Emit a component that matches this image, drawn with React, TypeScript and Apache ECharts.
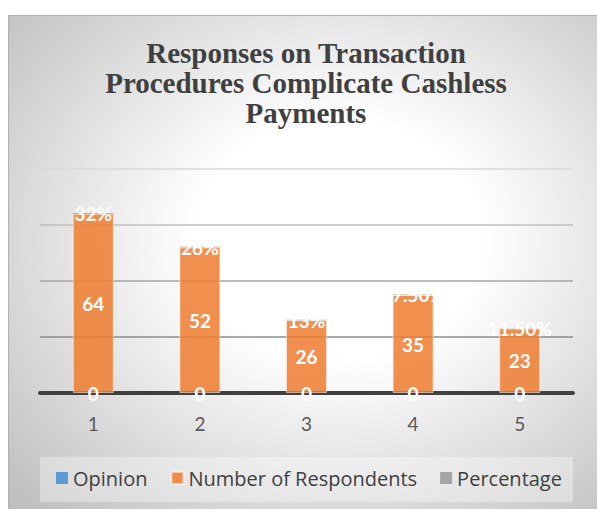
import React, { useEffect, useRef } from "react";
import * as echarts from "echarts";

const categories = ["1", "2", "3", "4", "5"];
const opinionValues = [0, 0, 0, 0, 0];
const respondents = [64, 52, 26, 35, 23];
const percentageValues = [0.32, 0.26, 0.13, 0.175, 0.115];
const percentageLabels = ["32%", "26%", "13%", "17.50%", "11.50%"];
const titleText = "Responses on Transaction\nProcedures Complicate Cashless\nPayments";

export default function App() {
  const ref = useRef<HTMLDivElement>(null);
  useEffect(() => {
    if (!ref.current) return;
    const chart = echarts.init(ref.current, null, { renderer: "svg" });
    const labelFont = "Lato, 'Open Sans', sans-serif";
    const dataLabel = {
      show: true,
      position: "inside" as const,
      color: "#ffffff",
      fontWeight: "bold" as const,
      fontSize: 19,
      fontFamily: labelFont,
    };
    chart.setOption({
      animation: false,
      graphic: [
        {
          type: "rect",
          z: -100,
          silent: true,
          shape: { x: 8.5, y: 15.5, width: 600, height: 500 },
          style: {
            fill: new echarts.graphic.RadialGradient(0.55, 0.45, 0.8, [
              { offset: 0, color: "#ffffff" },
              { offset: 0.3, color: "#ffffff" },
              { offset: 0.9, color: "#c2c2c2" },
              { offset: 1, color: "#bcbcbc" },
            ]),
            stroke: "#b0b0b0",
            lineWidth: 1,
          },
        },
        {
          type: "rect",
          z: -50,
          silent: true,
          shape: { x: 40, y: 457, width: 533, height: 45 },
          style: { fill: "rgba(255,255,255,0.35)" },
        },
        {
          type: "text",
          x: 306,
          y: 38,
          z: 10,
          style: {
            text: titleText,
            align: "center",
            verticalAlign: "top",
            fontFamily: "'Liberation Serif', 'Times New Roman', serif",
            fontWeight: "bold",
            fontSize: 29,
            lineHeight: 30,
            fill: "#404040",
          },
        },
      ],
      legend: {
        left: 56,
        top: 468,
        padding: 0,
        itemGap: 23,
        itemWidth: 12,
        itemHeight: 12,
        icon: "rect",
        textStyle: { fontSize: 20, color: "#404040", fontFamily: "'Open Sans', sans-serif" },
        data: ["Opinion", "Number of Respondents", "Percentage"],
      },
      grid: { left: 40, right: 24, top: 169, bottom: 116, containLabel: false },
      xAxis: {
        type: "category",
        data: categories,
        axisLine: { show: true, lineStyle: { color: "#404040", width: 4 } },
        axisTick: { show: false },
        axisLabel: { color: "#595959", fontSize: 19, fontFamily: labelFont, margin: 21 },
        z: 1,
      },
      yAxis: {
        type: "value",
        min: 0,
        max: 80,
        interval: 20,
        axisLabel: { show: false },
        axisLine: { show: false },
        axisTick: { show: false },
        splitLine: {
          show: true,
          lineStyle: { color: ["rgba(0,0,0,0)", "#8c8c8c", "#a6a6a6", "#bfbfbf", "#d9d9d9"], width: 1.5 },
        },
      },
      series: [
        {
          name: "Opinion",
          type: "bar",
          stack: "total",
          barWidth: 41,
          data: opinionValues,
          itemStyle: { color: "#5b9bd5" },
          label: dataLabel,
          z: 3,
        },
        {
          name: "Number of Respondents",
          type: "bar",
          stack: "total",
          barWidth: 41,
          data: respondents,
          itemStyle: {
            color: "rgba(237,125,49,0.86)",
            borderColor: "rgba(255,255,255,0.5)",
            borderWidth: 1,
          },
          label: dataLabel,
          z: 2,
        },
        {
          name: "Percentage",
          type: "bar",
          stack: "total",
          barWidth: 41,
          data: percentageValues,
          itemStyle: { color: "#a5a5a5" },
          label: {
            ...dataLabel,
            formatter: (p: any) => percentageLabels[p.dataIndex],
          },
          z: 3,
        },
      ],
    });
    return () => chart.dispose();
  }, []);
  return (
    <div
      ref={ref}
      style={{ position: "absolute", left: 0, top: 0, width: 597, height: 509 }}
    />
  );
}
